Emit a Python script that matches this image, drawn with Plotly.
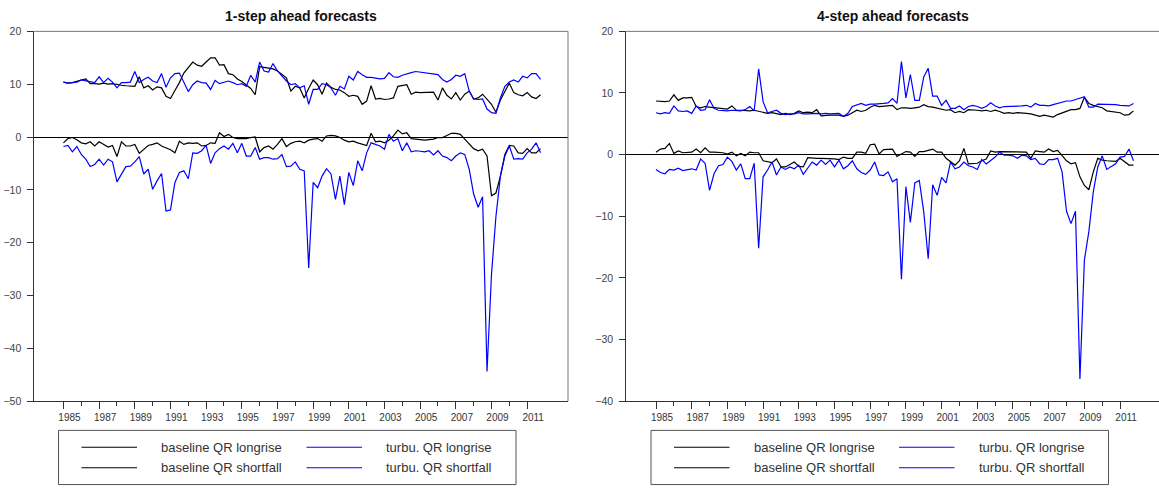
import pandas as pd
import plotly.graph_objects as go

# ---------------- data ----------------
quarters = pd.period_range("1985Q1", "2011Q4", freq="Q")
t = [p.year + (p.quarter - 1) / 4 for p in quarters]

year_ticks = list(range(1985, 2012, 2))
year_minor = list(range(1986, 2011, 2))

# 1-step ahead forecasts
one_base_longrise = [
    10.4, 10.2, 10.3, 10.6, 10.8, 11.0, 10.1, 10.1, 10.0, 10.2,
    10.0, 10.1, 9.9, 9.8, 9.7, 9.6, 9.6, 11.4, 9.3, 9.7,
    8.9, 9.5, 9.3, 7.7, 7.3, 8.8, 10.3, 12.1, 13.2, 14.2,
    13.6, 13.4, 14.2, 15.0, 15.0, 13.6, 13.7, 12.0, 11.8, 11.0,
    10.5, 9.9, 9.2, 8.0, 13.3, 13.2, 13.0, 12.9, 12.5, 11.9,
    11.2, 8.7, 9.6, 9.3, 7.4, 9.2, 10.8, 9.9, 8.1, 10.2,
    9.4, 9.0, 8.9, 8.4, 7.7, 7.9, 7.7, 6.2, 6.8, 9.7,
    7.2, 7.3, 7.1, 7.2, 7.4, 9.6, 9.8, 9.9, 8.1, 8.5,
    8.4, 8.4, 8.4, 8.5, 7.0, 9.3, 7.9, 7.2, 8.4, 7.0,
    8.1, 8.7, 7.2, 7.4, 8.1, 7.1, 6.2, 4.7, 7.0, 8.6,
    10.2, 8.4, 8.0, 7.8, 8.4, 7.6, 7.3, 8.0]
one_turbu_longrise = [
    10.4, 10.2, 10.3, 10.4, 10.8, 10.6, 10.4, 10.3, 11.4, 10.3,
    11.1, 10.4, 9.3, 10.3, 10.3, 10.4, 12.4, 10.3, 10.9, 11.3,
    10.6, 10.3, 12.0, 9.4, 11.2, 12.0, 12.1, 10.3, 8.6, 9.9,
    10.6, 10.3, 10.2, 9.0, 10.7, 10.1, 10.3, 10.6, 10.3, 9.9,
    10.1, 9.6, 11.7, 10.4, 14.2, 12.5, 12.3, 13.9, 12.5, 11.5,
    10.6, 9.9, 10.1, 9.3, 9.7, 6.2, 9.0, 9.0, 10.1, 9.9,
    9.3, 7.9, 9.6, 9.1, 11.5, 10.8, 12.4, 11.8, 11.3, 11.3,
    11.2, 11.0, 11.1, 12.2, 11.4, 11.3, 11.7, 12.0, 12.2, 12.4,
    12.3, 12.2, 12.1, 12.0, 11.8, 10.9, 10.4, 10.9, 11.7, 11.5,
    12.0, 8.7, 7.2, 7.1, 7.2, 5.3, 4.6, 4.5, 7.4, 9.6,
    10.4, 10.8, 10.4, 11.5, 11.2, 12.0, 12.0, 10.9]
one_base_shortfall = [
    -1.1, -0.3, -0.1, -0.5, -1.1, -1.3, -0.9, -1.7, -0.9, -1.4,
    -1.9, -1.6, -3.7, -0.9, -1.7, -1.7, -1.4, -3.1, -2.3, -1.6,
    -1.4, -1.1, -1.7, -2.0, -2.4, -3.0, -0.8, -1.4, -1.1, -1.2,
    -1.1, -1.7, -1.6, -1.1, -1.2, 0.8, 0.1, 0.5, -0.1, -0.3,
    -0.3, -0.3, -0.1, 0.0, -2.8, -2.0, -1.7, -2.3, -1.4, -0.3,
    -1.8, -1.2, -0.9, -0.8, -1.1, -0.6, -0.4, -0.3, -0.8, 0.2,
    0.3, 0.2, -0.1, -0.6, -0.9, -0.8, -1.1, -1.3, -1.6, 0.7,
    -0.9, -0.8, -1.1, -0.6, 0.2, 1.3, 0.6, 0.8, -0.3, -0.4,
    -0.5, -0.6, -0.5, -0.4, -0.1, -0.1, 0.3, 0.7, 0.7, 0.5,
    -0.4, -1.4, -2.2, -2.6, -2.3, -3.6, -11.1, -10.6, -7.4, -3.3,
    -1.6, -1.7, -3.0, -3.1, -2.2, -3.0, -3.0, -2.2]
one_turbu_shortfall = [
    -1.8, -1.6, -2.8, -1.8, -3.3, -4.2, -5.6, -5.2, -4.2, -5.3,
    -4.2, -4.7, -8.5, -7.0, -5.6, -5.5, -4.7, -3.7, -7.0, -6.1,
    -9.9, -8.3, -6.9, -14.0, -13.8, -8.6, -6.7, -6.4, -7.9, -3.0,
    -3.1, -2.6, -1.6, -5.0, -3.0, -2.2, -1.7, -2.3, -1.2, -3.0,
    -1.2, -3.6, -3.6, -2.0, -4.2, -3.9, -3.9, -4.2, -4.1, -3.3,
    -5.6, -5.5, -4.7, -6.1, -6.4, -24.8, -8.6, -9.6, -7.4, -6.0,
    -7.0, -11.8, -7.4, -12.8, -6.7, -9.2, -4.5, -6.4, -3.0, -1.1,
    -1.4, -1.7, -2.3, 0.5, -0.8, -0.3, -2.6, -1.1, -2.8, -2.6,
    -2.7, -2.8, -2.6, -3.4, -2.6, -3.6, -3.9, -4.5, -3.6, -3.0,
    -3.3, -6.1, -10.8, -13.3, -11.3, -44.4, -26.0, -15.0, -7.4, -3.6,
    -1.7, -4.2, -4.1, -4.2, -3.0, -2.3, -1.1, -3.0]

# 4-step ahead forecasts
four_base_longrise = [
    8.7, 8.6, 8.6, 8.7, 9.7, 8.8, 9.2, 9.2, 9.3, 7.8,
    7.6, 7.8, 7.7, 7.6, 7.5, 7.4, 7.4, 7.9, 7.2, 7.2,
    7.1, 7.1, 7.2, 7.0, 6.8, 6.7, 6.8, 6.7, 6.5, 6.7,
    6.5, 6.7, 7.1, 6.8, 6.9, 6.8, 7.3, 6.3, 6.4, 6.4,
    6.4, 6.4, 6.2, 6.4, 6.8, 7.2, 7.0, 7.2, 7.7, 8.0,
    7.8, 7.9, 8.0, 8.0, 7.3, 7.6, 7.6, 7.5, 7.6, 7.7,
    8.1, 7.8, 7.7, 7.5, 7.3, 7.2, 7.3, 6.8, 7.0, 6.8,
    7.3, 7.3, 7.2, 7.1, 7.2, 7.0, 7.2, 7.0, 6.7, 6.8,
    6.7, 6.8, 6.8, 6.7, 6.6, 6.4, 6.2, 6.4, 6.3, 6.1,
    6.5, 6.8, 7.0, 7.3, 7.3, 7.5, 9.3, 8.3, 8.0, 7.8,
    7.6, 7.1, 7.0, 7.0, 6.8, 6.4, 6.5, 7.1]
four_turbu_longrise = [
    6.8, 6.6, 6.8, 6.7, 7.9, 7.1, 7.0, 7.1, 6.7, 7.9,
    7.2, 7.3, 8.9, 7.5, 7.2, 7.1, 7.1, 7.2, 7.1, 7.1,
    7.3, 7.8, 7.1, 13.9, 8.6, 6.8, 7.0, 7.2, 6.7, 6.5,
    6.6, 6.6, 6.8, 6.6, 6.6, 6.7, 6.7, 6.6, 6.7, 6.6,
    6.7, 6.7, 6.2, 6.7, 7.8, 8.0, 8.3, 8.0, 8.2, 8.2,
    8.2, 8.3, 8.4, 9.1, 8.3, 15.1, 9.2, 13.0, 8.8, 8.8,
    12.6, 14.0, 9.5, 9.5, 8.0, 8.8, 7.5, 7.5, 7.9, 7.3,
    7.8, 8.0, 7.8, 7.5, 7.8, 8.4, 7.9, 7.6, 7.8, 7.8,
    7.9, 7.9, 7.9, 8.0, 7.7, 8.3, 8.0, 8.0, 7.9, 8.1,
    8.3, 8.6, 8.7, 8.7, 8.9, 9.1, 9.4, 7.7, 7.7, 8.2,
    8.2, 8.2, 8.2, 8.1, 8.0, 7.9, 7.9, 8.3]
four_base_shortfall = [
    0.4, 0.9, 1.0, 1.8, 0.2, 0.6, 0.3, 0.4, 0.4, 0.9,
    0.3, 1.1, 0.4, 0.4, 0.4, 0.3, 0.1, 0.4, -0.2, 0.2,
    -0.2, 0.4, 0.3, 0.3, -1.0, -1.2, -1.3, -0.7, -2.0, -2.0,
    -1.6, -1.2, -1.9, -2.0, -0.5, -0.6, -0.6, -0.6, -0.6, -0.6,
    -0.7, -0.8, -0.4, -0.6, -0.6, 0.4, 0.4, 0.2, 1.6, 1.7,
    0.1, 0.8, 0.8, 0.9, -0.3, 0.1, 0.5, 0.4, -0.3, 0.5,
    0.5, 0.7, 0.9, 0.4, 0.4, -0.6, -1.2, -1.7, -1.0, 1.0,
    -1.5, -1.5, -1.4, -1.0, -0.7, 0.6, 0.4, 0.5, 0.5, 0.5,
    0.5, 0.5, 0.5, 0.4, -0.6, 0.6, 0.5, 0.4, 0.9, 0.5,
    0.7, -0.1, -1.0, -1.5, -1.3, -3.6, -5.0, -5.7, -2.8, -0.6,
    -0.9, -1.0, -1.0, -1.1, -0.6, -1.2, -1.7, -1.7]
four_turbu_shortfall = [
    -2.4, -2.9, -3.1, -2.4, -2.5, -2.2, -2.6, -2.4, -2.3, -2.5,
    -0.7, -1.4, -5.8, -3.1, -1.8, -1.6, -0.4, -1.1, -2.5, -1.5,
    -3.9, -3.9, -1.4, -15.2, -3.6, -2.5, -1.2, -3.3, -2.0, -2.4,
    -2.0, -2.3, -1.7, -3.2, -2.1, -1.2, -1.7, -0.9, -1.6, -0.9,
    -2.0, -0.9, -2.3, -1.8, -1.0, -2.3, -2.9, -3.2, -2.5, -1.2,
    -3.3, -3.4, -2.8, -4.4, -3.9, -20.2, -5.2, -11.0, -4.6, -4.2,
    -9.3, -16.9, -4.9, -6.6, -3.7, -4.6, -1.2, -2.3, -2.0, -1.2,
    -1.8, -2.0, -2.4, -0.8, -1.5, -1.0, -0.4, 0.4, -0.1, -0.1,
    -0.2, -0.6, -0.1, -0.2, -0.8, -0.6, -1.5, -1.6, -0.8, -0.8,
    -0.6, -2.8, -9.2, -11.2, -9.2, -36.4, -17.1, -12.5, -6.0, -2.0,
    -0.2, -2.4, -2.0, -1.5, -0.4, -0.3, 0.9, -1.0]

titles = ["1-step ahead forecasts", "4-step ahead forecasts"]
legend_labels = ["baseline QR longrise", "turbu. QR longrise",
                 "baseline QR shortfall", "turbu. QR shortfall"]

# ---------------- layout helpers ----------------
W, H = 1159, 492
FONT = "Liberation Sans, Arial, Helvetica, sans-serif"
BLACK = "#000000"
BLUE = "#0000ff"
AXC = "#333333"


def fx(px):
    return px / W


def fy(py):
    return 1 - py / H


fig = go.Figure()

panels = [
    dict(series=(one_base_longrise, one_base_shortfall, one_turbu_longrise, one_turbu_shortfall),
         xa="x", ya="y", xdom=(34.4, 568.0), xrange=(1983.37, 2013.29), yrange=(-50, 20),
         title_cx=301, legend_x0=58.5),
    dict(series=(four_base_longrise, four_base_shortfall, four_turbu_longrise, four_turbu_shortfall),
         xa="x2", ya="y2", xdom=(626.2, 1159.0), xrange=(1983.33, 2013.18), yrange=(-40, 20),
         title_cx=893, legend_x0=651.0),
]

colors = [BLACK, BLACK, BLUE, BLUE]
names = ["baseline QR longrise", "baseline QR shortfall", "turbu. QR longrise", "turbu. QR shortfall"]

for p in panels:
    for s, c, n in zip(p["series"], colors, names):
        fig.add_trace(go.Scatter(x=t, y=s, mode="lines", name=n,
                                 line=dict(color=c, width=1.2),
                                 xaxis=p["xa"], yaxis=p["ya"], showlegend=False,
                                 hoverinfo="skip"))

PLOT_TOP, PLOT_BOT = 26.0, 405.0

layout = dict(
    width=W, height=H, margin=dict(l=0, r=0, t=0, b=0),
    paper_bgcolor="white", plot_bgcolor="white",
    font=dict(family=FONT, color=AXC),
    showlegend=False,
)

shapes = []
annotations = []
for i, p in enumerate(panels):
    sfx = "" if i == 0 else "2"
    layout["xaxis" + sfx] = dict(
        domain=[fx(p["xdom"][0]), fx(p["xdom"][1])],
        range=list(p["xrange"]), anchor="y" + sfx,
        showgrid=False, zeroline=False, showline=True, linecolor=AXC, linewidth=1,
        ticks="outside", ticklen=7, tickwidth=1, tickcolor=AXC,
        tickmode="array", tickvals=year_ticks, ticktext=[str(v) for v in year_ticks],
        tickfont=dict(family=FONT, size=10, color="#333333"),
        ticklabelshift=6,
        minor=dict(tickmode="array", tickvals=year_minor, ticks="outside",
                   ticklen=4, tickwidth=1, tickcolor=AXC, showgrid=False),
        fixedrange=True,
    )
    layout["yaxis" + sfx] = dict(
        domain=[fy(PLOT_BOT), fy(PLOT_TOP)],
        range=list(p["yrange"]), anchor="x" + sfx,
        showgrid=False, showline=True, linecolor=AXC, linewidth=1,
        zeroline=True, zerolinecolor=BLACK, zerolinewidth=1,
        ticks="outside", ticklen=6, tickwidth=1, tickcolor=AXC,
        tickmode="array", tickvals=list(range(p["yrange"][0], p["yrange"][1] + 1, 10)),
        tickfont=dict(family=FONT, size=10.5, color="#444444"),
        ticklabelstandoff=4,
        fixedrange=True,
    )
    xr = "x" + sfx + " domain"
    yr = "y" + sfx + " domain"
    # top frame line
    shapes.append(dict(type="line", xref=xr, yref=yr, x0=0, x1=1, y0=1, y1=1,
                       line=dict(color="#777777", width=1)))
    if i == 0:
        shapes.append(dict(type="line", xref=xr, yref=yr, x0=1, x1=1, y0=0, y1=1,
                           line=dict(color="#777777", width=1)))
    # title
    annotations.append(dict(text="<b>" + titles[i] + "</b>", xref="paper", yref="paper",
                            x=fx(p["title_cx"]), y=fy(10.5), xanchor="center", yanchor="middle",
                            showarrow=False, font=dict(family=FONT, size=14, color="#111111")))
    # legend box
    x0 = p["legend_x0"]
    shapes.append(dict(type="rect", xref="paper", yref="paper",
                       x0=fx(x0), x1=fx(x0 + 457.5), y0=fy(490.5), y1=fy(435.0),
                       line=dict(color="#555555", width=1), fillcolor="rgba(0,0,0,0)"))
    entries = [(legend_labels[0], BLACK, 0, 452.3), (legend_labels[1], BLUE, 1, 452.3),
               (legend_labels[2], BLACK, 0, 473.3), (legend_labels[3], BLUE, 1, 473.3)]
    for lab, col, colidx, ypx in entries:
        sx0 = x0 + 23 + colidx * 225
        shapes.append(dict(type="line", xref="paper", yref="paper",
                           x0=fx(sx0), x1=fx(sx0 + 55.5), y0=fy(ypx), y1=fy(ypx),
                           line=dict(color=col, width=1.2)))
        annotations.append(dict(text=lab, xref="paper", yref="paper",
                                x=fx(sx0 + 77.5), y=fy(ypx), xanchor="left", yanchor="middle",
                                showarrow=False,
                                font=dict(family=FONT, size=13, color="#333333")))

layout["shapes"] = shapes
layout["annotations"] = annotations
fig.update_layout(**layout)

fig.write_html("out.html", config=dict(displayModeBar=False, responsive=False))
